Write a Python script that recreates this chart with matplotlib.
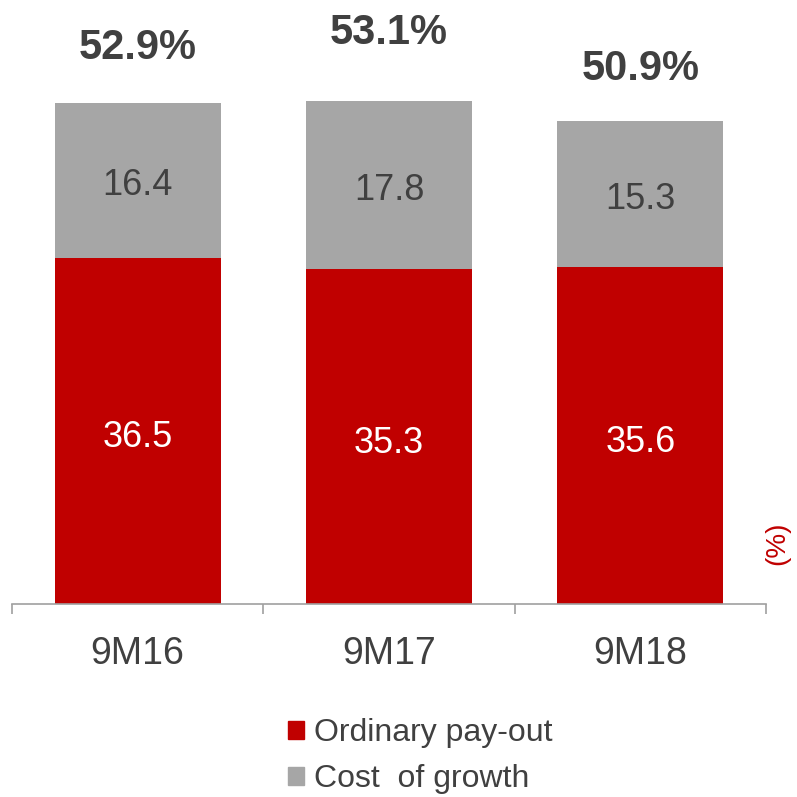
import numpy as np
import matplotlib.pyplot as plt
from matplotlib.patches import Patch

plt.rcParams['font.family'] = ['Liberation Sans', 'DejaVu Sans']

# data
periods = ["9M16", "9M17", "9M18"]
ordinary = [36.5, 35.3, 35.6]
growth = [16.4, 17.8, 15.3]
totals = ["52.9%", "53.1%", "50.9%"]
total_offsets = [55, 68, 52]  # px above bar top, as in the source slide

RED = "#C00000"
GREY = "#A6A6A6"
TXT = "#404040"

fig = plt.figure(figsize=(7.97, 7.97), dpi=100)
ax = fig.add_axes([12 / 797, 1 - 604 / 797, (766 - 12) / 797, 604 / 797])

x = np.arange(len(periods))
w = 0.66
ax.bar(x, ordinary, w, color=RED, zorder=2)
ax.bar(x, growth, w, bottom=ordinary, color=GREY, zorder=2)

for i in range(len(periods)):
    ax.annotate(f"{ordinary[i]:.1f}", (x[i], ordinary[i] / 2), xytext=(0, -5),
                textcoords="offset points", ha="center", va="center",
                color="white", fontsize=26)
    ax.annotate(f"{growth[i]:.1f}", (x[i], ordinary[i] + growth[i] / 2), xytext=(0, -4),
                textcoords="offset points", ha="center", va="center",
                color=TXT, fontsize=26)
    top = ordinary[i] + growth[i]
    ax.annotate(totals[i], (x[i], top), xytext=(0, total_offsets[i] * 0.72),
                textcoords="offset points", ha="center", va="center",
                color=TXT, fontsize=30, fontweight="bold")

ax.set_xlim(-0.5, len(periods) - 0.5)
ax.set_ylim(0, 604 / 9.48)
ax.set_yticks([])
for s in ["top", "left", "right"]:
    ax.spines[s].set_visible(False)
ax.spines["bottom"].set_color("#A0A0A0")
ax.spines["bottom"].set_linewidth(1.2)

# boundary ticks between categories, labels centred
ax.set_xticks(np.arange(len(periods) + 1) - 0.5)
ax.set_xticklabels([])
ax.tick_params(axis="x", which="major", length=7, width=1.2, color="#A0A0A0")
ax.set_xticks(x, minor=True)
ax.set_xticklabels(periods, minor=True)
ax.tick_params(axis="x", which="minor", length=0, pad=23, labelsize=27, labelcolor=TXT)

fig.text(777 / 797, 1 - 543 / 797, "(%)", rotation=90, ha="center", va="center",
         color=RED, fontsize=20)

handles = [Patch(color=RED), Patch(color=GREY)]
fig.legend(handles, ["Ordinary pay-out", "Cost  of growth"], loc="upper left",
           bbox_to_anchor=(288 / 797, 1 - 718 / 797), frameon=False, fontsize=23,
           labelcolor=TXT, handlelength=0.5, handleheight=0.5, handletextpad=0.3,
           labelspacing=0.5, borderpad=0, borderaxespad=0)

fig.savefig("out.png", dpi=100)
